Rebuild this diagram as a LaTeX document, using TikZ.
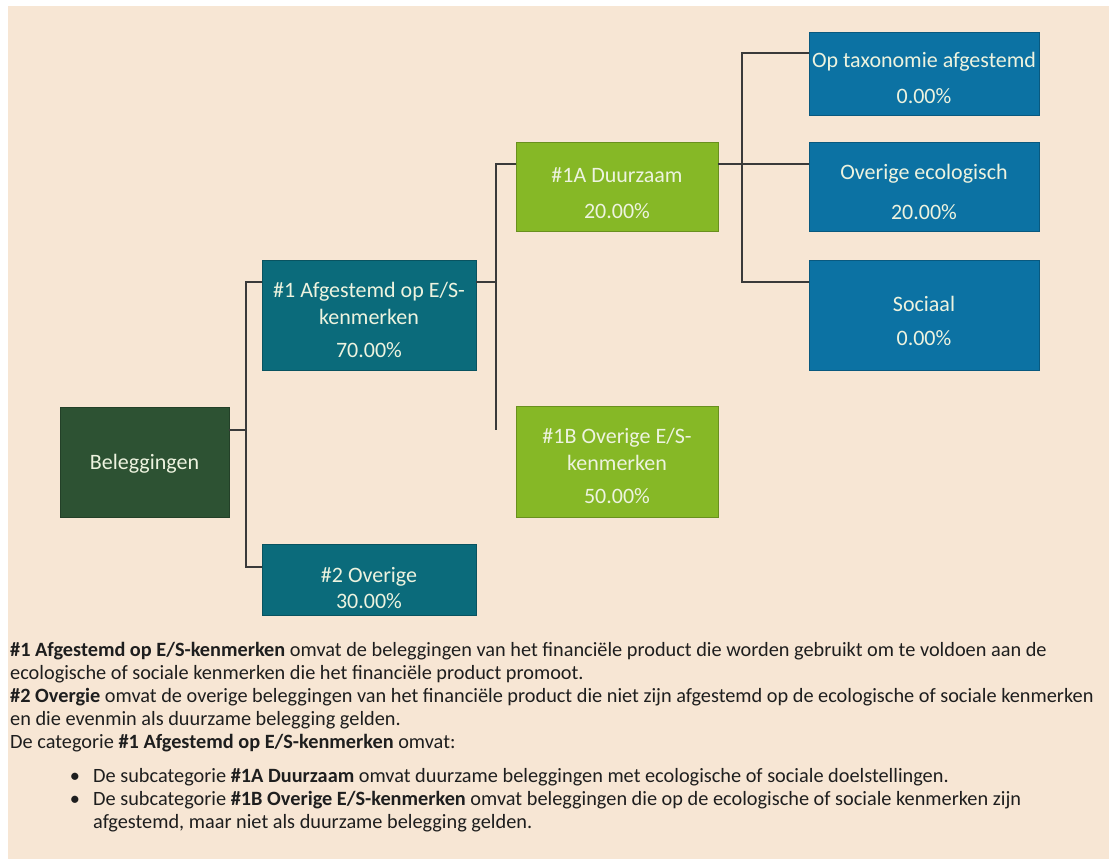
\documentclass[tikz,border=0pt]{standalone}
\usepackage{fontspec}
\setmainfont{Carlito}
\usetikzlibrary{calc}
\definecolor{bg}{HTML}{F7E6D4}
\definecolor{dkgreen}{HTML}{2D5233}
\definecolor{teal}{HTML}{0B6B7B}
\definecolor{lime}{HTML}{86B826}
\definecolor{blue}{HTML}{0C72A3}
\definecolor{boxtxt}{HTML}{EDF3DF}
\definecolor{bodytxt}{HTML}{1E1E1E}
\definecolor{linec}{HTML}{3A3A3A}
\newcommand\bx[2]{\raisebox{#1}[0pt][0pt]{\begin{tabular}[t]{@{}c@{}}#2\end{tabular}}}
\tikzset{
  box/.style={draw=#1!78!black, fill=#1, line width=0.7pt, inner sep=0pt, outer sep=0pt,
    text=boxtxt, font=\fontsize{22}{27}\selectfont},
  conn/.style={draw=linec, line width=1.3pt},
  body/.style={anchor=base west, inner sep=0pt, text=bodytxt, font=\fontsize{20.3}{23}\selectfont}
}
\begin{document}
\begin{tikzpicture}[x=1pt,y=-1pt]
\useasboundingbox (0,0) rectangle (1109,859);
\fill[white] (0,0) rectangle (1109,859);
\fill[bg] (8,6) rectangle (1109,859);

% boxes
\node[box=dkgreen, minimum width=169pt, minimum height=110pt] (bel) at (144.5,462) {\bx{-7.5pt}{Beleggingen}};
\node[box=teal, minimum width=214pt, minimum height=110pt] (b1) at (369,315) {\bx{17.5pt}{\#1 Afgestemd op E/S-\\kenmerken\\[6pt]70.00\%}};
\node[box=teal, minimum width=214pt, minimum height=71pt] (b2) at (369,579.5) {\bx{-3pt}{\#2 Overige\\[-1pt]30.00\%}};
\node[box=lime, minimum width=202pt, minimum height=89pt] (b1a) at (617,186.5) {\bx{4pt}{\#1A Duurzaam\\[9pt]20.00\%}};
\node[box=lime, minimum width=202pt, minimum height=111pt] (b1b) at (617,461.5) {\bx{18pt}{\#1B Overige E/S-\\kenmerken\\[6pt]50.00\%}};
\node[box=blue, minimum width=230pt, minimum height=83pt] (tax) at (924,73.5) {\bx{6pt}{Op taxonomie afgestemd\\[9pt]0.00\%}};
\node[box=blue, minimum width=230pt, minimum height=89pt] (eco) at (924,186.5) {\bx{7pt}{Overige ecologisch\\[13pt]20.00\%}};
\node[box=blue, minimum width=230pt, minimum height=110pt] (soc) at (924,315) {\bx{3.5pt}{Sociaal\\[7pt]0.00\%}};

% connectors
\coordinate (j1) at (246,430);
\draw[conn] ($(bel.north east)+(0,23)$) -- (j1);
\draw[conn] ($(b1.north west)+(0,22)$) -| (j1) |- ($(b2.north west)+(0,23)$);
\coordinate (j2) at (496,282);
\coordinate (j2e) at (496,430);
\draw[conn] ($(b1.north east)+(0,22)$) -- (j2);
\draw[conn] ($(b1a.north west)+(0,22)$) -| (j2e);
\draw[conn] ($(b1a.north east)+(0,22)$) -- ($(eco.north west)+(0,22)$);
\coordinate (j3) at (742,164);
\draw[conn] ($(tax.north west)+(0,21)$) -| (j3) |- ($(soc.north west)+(0,22)$);

% body text
\node[body] (p1) at (10,656) {\textbf{\#1 Afgestemd op E/S-kenmerken} omvat de beleggingen van het financiële product die worden gebruikt om te voldoen aan de};
\node[body] (p2) at (10,679) {ecologische of sociale kenmerken die het financiële product promoot.};
\node[body] (p3) at (10,702) {\textbf{\#2 Overgie} omvat de overige beleggingen van het financiële product die niet zijn afgestemd op de ecologische of sociale kenmerken};
\node[body] (p4) at (10,725) {en die evenmin als duurzame belegging gelden.};
\node[body] (p5) at (10,748) {De categorie \textbf{\#1 Afgestemd op E/S-kenmerken} omvat:};
\node[body, anchor=base] (bu1) at (75,782) {•};
\node[body] (p6) at (93,782) {De subcategorie \textbf{\#1A Duurzaam} omvat duurzame beleggingen met ecologische of sociale doelstellingen.};
\node[body, anchor=base] (bu2) at (75,805) {•};
\node[body] (p7) at (93,805) {De subcategorie \textbf{\#1B Overige E/S-kenmerken} omvat beleggingen die op de ecologische of sociale kenmerken zijn};
\node[body] (p8) at (93,828) {afgestemd, maar niet als duurzame belegging gelden.};
\end{tikzpicture}
\end{document}
